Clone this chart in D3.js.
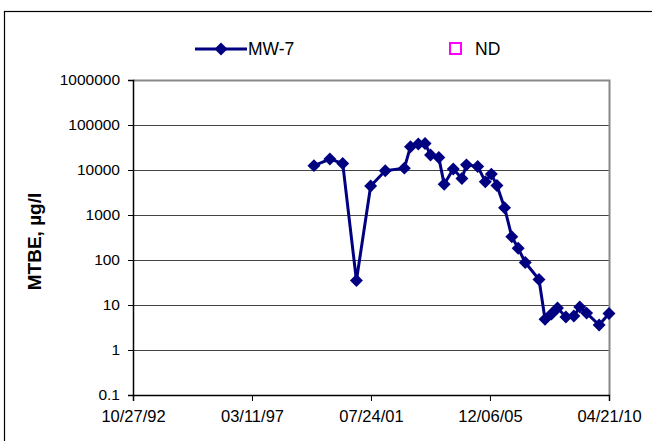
<!DOCTYPE html>
<html>
<head>
<meta charset="utf-8">
<script src="https://cdn.jsdelivr.net/npm/d3@7"></script>
<style>
  html, body { margin: 0; padding: 0; background: #fff; }
  svg { display: block; font-family: Arial, "Liberation Sans", sans-serif; }
</style>
</head>
<body>
<svg id="chart" width="652" height="441"></svg>
<script>
// MW-7 sampling dates and MTBE concentrations (µg/l)
const sampleDates = [
  "1999-06-20", "2000-01-20", "2000-07-10", "2001-01-10", "2001-07-20",
  "2002-02-01", "2002-10-15", "2003-01-05", "2003-04-20", "2003-07-20",
  "2003-10-01", "2004-01-20", "2004-04-01", "2004-08-01", "2004-11-25",
  "2005-01-25", "2005-06-25", "2005-10-05", "2005-12-25", "2006-03-10",
  "2006-06-20", "2006-09-25", "2006-12-20", "2007-03-25", "2007-09-25",
  "2007-12-15", "2008-03-10", "2008-05-30", "2008-09-20", "2009-01-05",
  "2009-03-25", "2009-06-25", "2009-12-10", "2010-04-21"
];
const mtbeValues = [
  12500, 17500, 14000, 35, 4400,
  9600, 11000, 33000, 38000, 39000,
  21500, 19000, 4800, 10500, 6500,
  13000, 12000, 5500, 8100, 4500,
  1450, 330, 182, 88, 37,
  4.8, 6.3, 8.6, 5.4, 5.7,
  9.0, 6.6, 3.6, 6.5
];
const yTickValues = [0.1, 1, 10, 100, 1000, 10000, 100000, 1000000];
const yTickLabels = ["0.1", "1", "10", "100", "1000", "10000", "100000", "1000000"];
const xTickDates = ["1992-10-27", "1997-03-11", "2001-07-24", "2005-12-06", "2010-04-21"];
const xTickLabels = ["10/27/92", "03/11/97", "07/24/01", "12/06/05", "04/21/10"];
const seriesName = "MW-7";
const ndName = "ND";

const parse = d3.utcParse("%Y-%m-%d");
const data = sampleDates.map((d, i) => ({ date: parse(d), value: mtbeValues[i] }));

const svg = d3.select("#chart");
const plot = { left: 133, top: 80, right: 609, bottom: 395 };
const fontFamily = "Arial, 'Liberation Sans', sans-serif";

const x = d3.scaleUtc()
  .domain([parse(xTickDates[0]), parse(xTickDates[xTickDates.length - 1])])
  .range([plot.left, plot.right]);
const y = d3.scaleLog()
  .domain([0.1, 1000000])
  .range([plot.bottom, plot.top]);

// Outer chart frame
svg.append("rect")
  .attr("x", 4.5).attr("y", 11.5)
  .attr("width", 700).attr("height", 500)
  .attr("fill", "#fff").attr("stroke", "#000").attr("stroke-width", 1.2);

// Horizontal gridlines at each decade
svg.append("g")
  .selectAll("line")
  .data(yTickValues.slice(1, -1))
  .join("line")
  .attr("x1", plot.left).attr("x2", plot.right)
  .attr("y1", d => Math.round(y(d)) + 0.5).attr("y2", d => Math.round(y(d)) + 0.5)
  .attr("stroke", "#444").attr("stroke-width", 1.2);

// Plot area border (top and right)
svg.append("path")
  .attr("d", `M${plot.left},${plot.top + 0.5}H${plot.right + 0.5}V${plot.bottom}`)
  .attr("fill", "none").attr("stroke", "#888").attr("stroke-width", 2);

// Y axis
const yAxis = d3.axisLeft(y)
  .tickValues(yTickValues)
  .tickFormat((d, i) => yTickLabels[i])
  .tickSizeOuter(0)
  .tickSize(5)
  .tickPadding(8);
const gy = svg.append("g")
  .attr("transform", `translate(${plot.left},0)`)
  .call(yAxis);
gy.select(".domain").attr("stroke", "#000").attr("stroke-width", 1.5);
gy.selectAll(".tick line").attr("stroke", "#000");
gy.selectAll(".tick text")
  .attr("font-size", 15.5).attr("fill", "#000")
  .attr("font-family", fontFamily);

// X axis
const xAxis = d3.axisBottom(x)
  .tickValues(xTickDates.map(parse))
  .tickFormat((d, i) => xTickLabels[i])
  .tickSizeOuter(0)
  .tickSize(6)
  .tickPadding(9);
const gx = svg.append("g")
  .attr("transform", `translate(0,${plot.bottom})`)
  .call(xAxis);
gx.select(".domain").attr("stroke", "#000").attr("stroke-width", 1.5);
gx.selectAll(".tick line").attr("stroke", "#000");
gx.selectAll(".tick text")
  .attr("font-size", 16.5).attr("fill", "#000")
  .attr("font-family", fontFamily);

// Y axis title
svg.append("text")
  .attr("transform", `translate(41,${(plot.top + plot.bottom) / 2 + 4}) rotate(-90)`)
  .attr("text-anchor", "middle")
  .attr("font-size", 19).attr("font-weight", "bold")
  .attr("font-family", fontFamily)
  .text("MTBE, µg/l");

// Series line
const navy = "#000080";
svg.append("path")
  .datum(data)
  .attr("fill", "none")
  .attr("stroke", navy).attr("stroke-width", 3)
  .attr("stroke-linejoin", "round")
  .attr("d", d3.line().x(d => x(d.date)).y(d => y(d.value)));

// Diamond markers
const diamond = d3.symbol().type(d3.symbolSquare).size(84);
svg.append("g")
  .selectAll("path")
  .data(data)
  .join("path")
  .attr("transform", d => `translate(${x(d.date)},${y(d.value)}) rotate(45)`)
  .attr("d", diamond)
  .attr("fill", navy);

// Legend
const legend = svg.append("g");
const ly = 49;
legend.append("line")
  .attr("x1", 195).attr("x2", 247).attr("y1", ly).attr("y2", ly)
  .attr("stroke", navy).attr("stroke-width", 3);
legend.append("path")
  .attr("transform", `translate(221,${ly}) rotate(45)`)
  .attr("d", diamond).attr("fill", navy);
legend.append("text")
  .attr("x", 248).attr("y", ly).attr("dy", "0.36em")
  .attr("font-size", 17.5).attr("font-family", fontFamily).text(seriesName);
legend.append("rect")
  .attr("x", 450).attr("y", ly - 6).attr("width", 11).attr("height", 11)
  .attr("fill", "none").attr("stroke", "#ff00ff").attr("stroke-width", 2);
legend.append("text")
  .attr("x", 475).attr("y", ly).attr("dy", "0.36em")
  .attr("font-size", 17.5).attr("font-family", fontFamily).text(ndName);
</script>
</body>
</html>
